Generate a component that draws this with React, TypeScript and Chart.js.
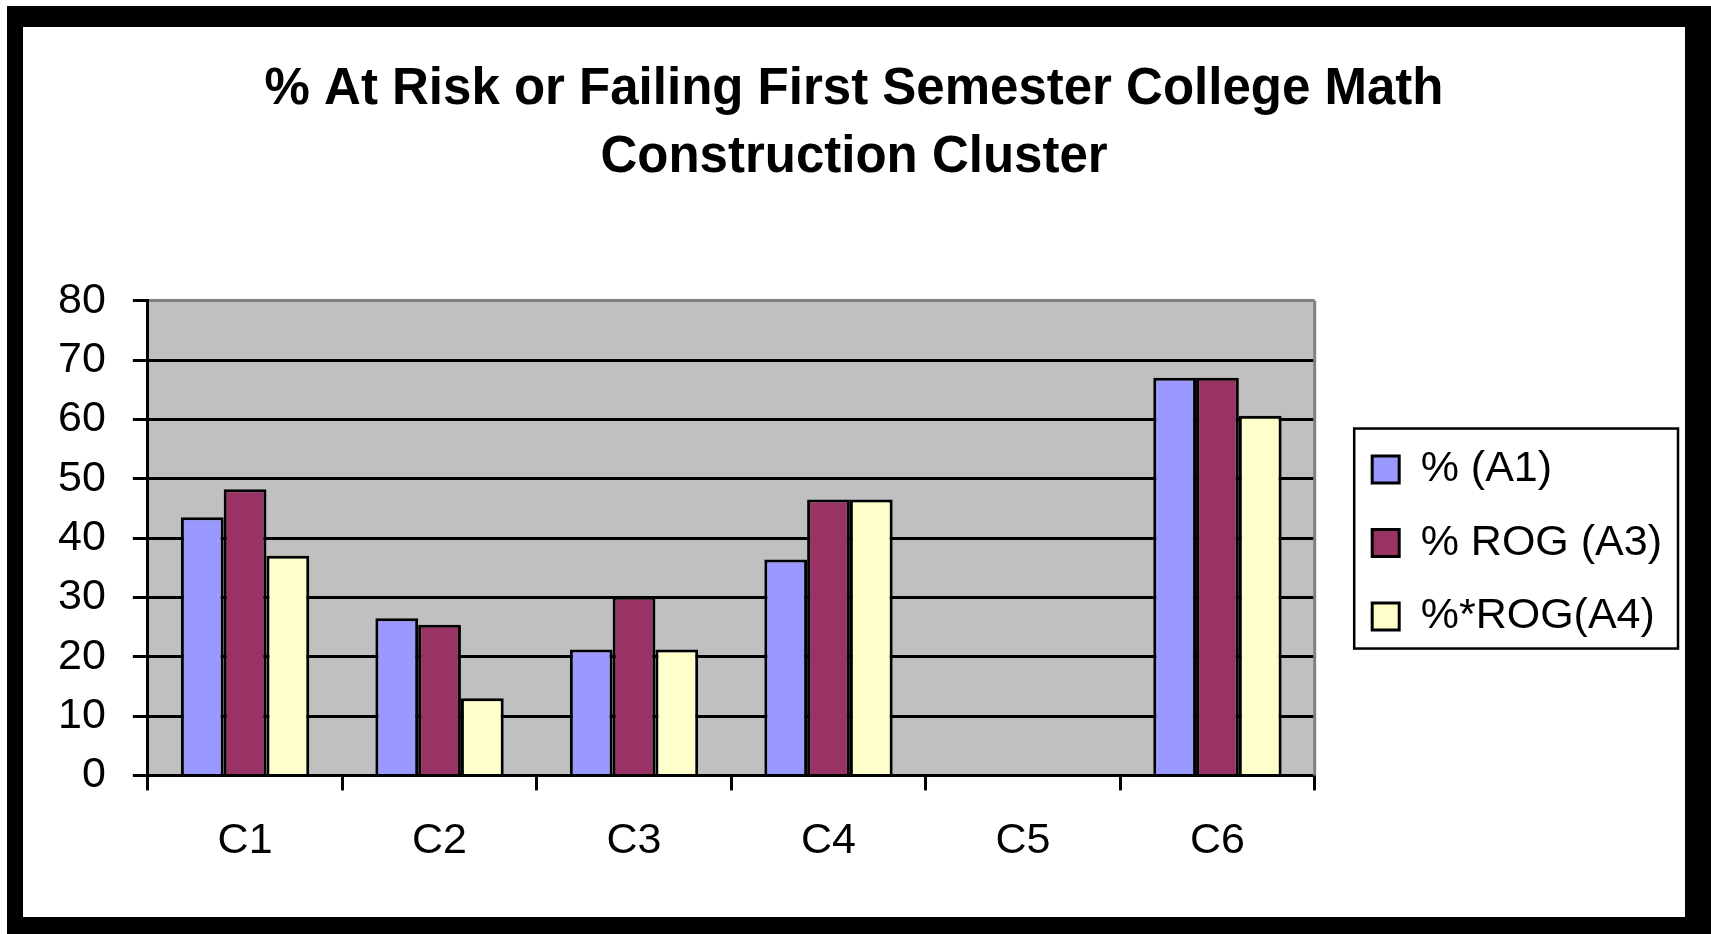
import React, { useEffect, useRef } from 'react';
import { Chart, registerables } from 'chart.js';

Chart.register(...registerables);

const TITLE_LINES = ['% At Risk or Failing First Semester College Math', 'Construction Cluster'];
const CATEGORIES = ['C1', 'C2', 'C3', 'C4', 'C5', 'C6'];
const SERIES_NAMES = ['% (A1)', '% ROG (A3)', '%*ROG(A4)'];
const SERIES_A1 = [43.5, 26.5, 21.2, 36.4, null, 67.0];
const SERIES_A3 = [48.2, 25.4, 30.1, 46.5, null, 67.0];
const SERIES_A4 = [37.0, 13.0, 21.2, 46.5, null, 60.6];
const Y_MIN = 0;
const Y_MAX = 80;
const Y_STEP = 10;
const COLORS = ['#9999FF', '#993366', '#FFFFCC'];

const FONT = "'Liberation Sans', Arial, Helvetica, sans-serif";

const plotBackground = {
  id: 'plotBackground',
  beforeDraw(chart: any) {
    const { ctx, chartArea: a } = chart;
    if (!a) return;
    ctx.save();
    ctx.fillStyle = '#C0C0C0';
    ctx.fillRect(a.left, a.top, a.right - a.left, a.bottom - a.top);
    ctx.restore();
  },
  beforeDatasetsDraw(chart: any) {
    const { ctx, chartArea: a } = chart;
    ctx.save();
    ctx.strokeStyle = '#808080';
    ctx.lineWidth = 3;
    ctx.beginPath();
    ctx.moveTo(a.right, a.top);
    ctx.lineTo(a.right, a.bottom);
    ctx.stroke();
    ctx.restore();
  },
};

// Excel-like placement: legend sits a bit further from the plot, title centred on the whole canvas
const layoutTweaks = {
  id: 'layoutTweaks',
  afterLayout(chart: any) {
    const lg = chart.legend;
    if (lg) {
      lg.left += 27;
      lg.right += 27;
      lg.top += 5;
      lg.bottom += 5;
    }
    const tb = chart.titleBlock;
    if (tb) {
      const dx = chart.width / 2 - (tb.left + tb.right) / 2;
      tb.left += dx;
      tb.right += dx;
    }
  },
};

const legendFrame = {
  id: 'legendFrame',
  afterDraw(chart: any) {
    const lg = chart.legend;
    if (!lg || !lg.legendHitBoxes || !lg.legendHitBoxes.length) return;
    const boxes = lg.legendHitBoxes;
    const first = boxes[0];
    const last = boxes[boxes.length - 1];
    const left = first.left - 18;
    const right = Math.max(...boxes.map((b: any) => b.left + b.width)) + 16;
    const top = first.top + first.height / 2 - 41;
    const bottom = last.top + last.height / 2 + 32;
    const ctx = chart.ctx;
    ctx.save();
    ctx.strokeStyle = '#000';
    ctx.lineWidth = 2.5;
    ctx.strokeRect(left, top, right - left, bottom - top);
    ctx.restore();
  },
};

export default function App() {
  const canvasRef = useRef<HTMLCanvasElement | null>(null);

  useEffect(() => {
    if (!canvasRef.current) return;
    const seriesValues = [SERIES_A1, SERIES_A3, SERIES_A4];
    const chart = new Chart(canvasRef.current, {
      type: 'bar',
      data: {
        labels: CATEGORIES,
        datasets: SERIES_NAMES.map((name, i) => ({
          label: name,
          data: seriesValues[i],
          backgroundColor: COLORS[i],
          borderColor: '#000',
          borderWidth: 3,
          categoryPercentage: 0.66,
          barPercentage: 1,
        })),
      },
      options: {
        animation: false,
        responsive: false,
        devicePixelRatio: 1,
        layout: { padding: { left: 8, right: 40, top: 0, bottom: 25 } },
        plugins: {
          title: {
            display: true,
            text: TITLE_LINES,
            color: '#000',
            font: { family: FONT, size: 51, weight: 'bold', lineHeight: 1.333 },
            padding: { top: 29, bottom: 108.7 },
          },
          legend: {
            position: 'right',
            fullSize: false,
            align: 'center',
            labels: {
              color: '#000',
              font: { family: FONT, size: 43 },
              boxWidth: 27,
              boxHeight: 27,
              padding: 30.5,
            },
          },
          tooltip: { enabled: false },
        },
        scales: {
          x: {
            grid: {
              display: true,
              drawOnChartArea: false,
              drawTicks: true,
              tickLength: 15,
              color: '#000',
              lineWidth: 3,
              offset: true,
            },
            border: { display: true, color: '#000', width: 3 },
            ticks: {
              color: '#000',
              font: { family: FONT, size: 43 },
              padding: 25,
              maxRotation: 0,
              autoSkip: false,
            },
          },
          y: {
            min: Y_MIN,
            max: Y_MAX,
            ticks: {
              stepSize: Y_STEP,
              color: '#000',
              font: { family: FONT, size: 43 },
              padding: 27,
            },
            grid: {
              color: (c: any) => (c.tick && c.tick.value === Y_MAX ? '#808080' : '#000'),
              lineWidth: 3,
              tickLength: 15,
              tickColor: '#000',
              tickWidth: 3,
            },
            border: { display: true, color: '#000', width: 3 },
          },
        },
      } as any,
      plugins: [plotBackground, layoutTweaks, legendFrame],
    });
    return () => chart.destroy();
  }, []);

  return (
    <div style={{ position: 'absolute', left: 0, top: 0, width: 1711, height: 934, background: '#fff', overflow: 'hidden' }}>
      <div style={{ position: 'absolute', left: 7, top: 6, width: 1704, height: 928, background: '#000' }}>
        <div style={{ position: 'absolute', left: 16, top: 21, width: 1662, height: 890, background: '#fff' }}>
          <canvas ref={canvasRef} width={1662} height={890} style={{ display: 'block', width: 1662, height: 890 }} />
        </div>
      </div>
    </div>
  );
}
